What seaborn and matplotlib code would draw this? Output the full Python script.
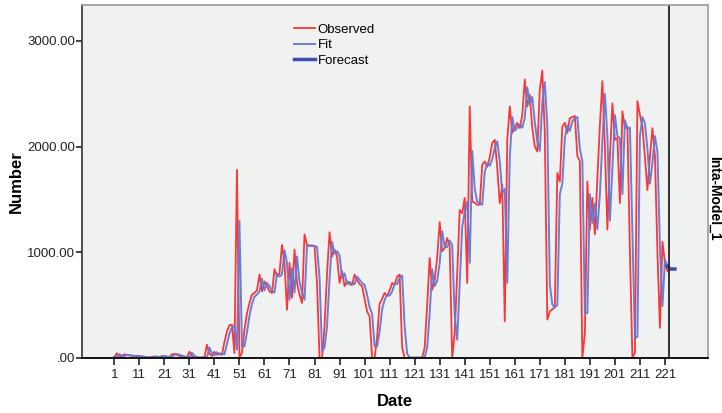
import numpy as np
import pandas as pd
import matplotlib
matplotlib.use("Agg")
import matplotlib.pyplot as plt
import seaborn as sns

observed = [
    10, 45, 20, 15, 35, 30, 25, 20, 20, 15,
    20, 10, 5, 5, 5, 10, 15, 10, 5, 20,
    15, 10, 5, 35, 40, 30, 20, 15, 10, 5,
    60, 20, 5, 5, 5, 5, 5, 125, 40, 20,
    60, 30, 45, 30, 150, 250, 310, 315, 47, 1780,
    0, 50, 270, 420, 520, 600, 615, 640, 790, 630,
    725, 680, 630, 615, 840, 775, 800, 1070, 900, 457,
    900, 570, 1025, 710, 600, 520, 1170, 1070, 1065, 1065,
    1060, 700, 0, 0, 300, 800, 1190, 960, 1025, 960,
    710, 820, 680, 725, 700, 690, 790, 740, 700, 680,
    560, 440, 395, 0, 0, 200, 515, 560, 615, 585,
    640, 710, 695, 770, 790, 100, 0, 0, 0, 0,
    0, 0, 0, 0, 100, 500, 946, 645, 740, 950,
    1285, 1010, 1040, 1135, 1060, 0, 236, 800, 1400, 1370,
    1515, 710, 2380, 1480, 1470, 1450, 1450, 1830, 1860, 1810,
    1900, 2035, 2065, 1800, 1465, 1640, 347, 2065, 2380, 2130,
    2180, 2225, 2175, 2300, 2635, 2380, 2490, 2175, 2000, 1955,
    2540, 2720, 2130, 363, 440, 460, 480, 1750, 1670, 2190,
    2225, 2130, 2270, 2280, 2290, 1910, 1860, 0, 236, 1670,
    1215, 1515, 1170, 1700, 2200, 2620, 2000, 1215, 1900, 2410,
    2065, 2080, 1465, 2335, 2175, 2190, 1000, 0, 50, 2430,
    2300, 2190, 1900, 1590, 1900, 2175, 1910, 1000, 285, 1100,
    900, 820,
]

fit = [
    10, 12, 35, 25, 18, 30, 28, 25, 20, 20,
    15, 18, 12, 8, 6, 6, 10, 14, 10, 8,
    18, 15, 10, 8, 30, 38, 30, 22, 15, 10,
    8, 50, 22, 8, 5, 5, 5, 5, 100, 45,
    25, 55, 32, 42, 35, 130, 230, 290, 300, 80,
    1300, 110, 110, 240, 400, 510, 580, 600, 630, 750,
    640, 710, 680, 630, 620, 800, 770, 790, 1020, 900,
    550, 850, 620, 960, 720, 620, 550, 1060, 1060, 1060,
    1060, 1050, 760, 63, 100, 300, 750, 1100, 990, 1010,
    970, 760, 800, 700, 720, 700, 700, 770, 740, 710,
    690, 600, 480, 420, 110, 110, 250, 460, 550, 600,
    590, 630, 700, 700, 760, 780, 300, 40, 5, 5,
    5, 5, 5, 5, 5, 100, 420, 840, 680, 730,
    900, 1200, 1050, 1050, 1110, 1070, 400, 173, 700, 1240,
    1380, 1480, 900, 1960, 1600, 1480, 1460, 1450, 1760, 1840,
    1820, 1880, 1990, 2050, 1860, 1560, 1600, 710, 1900, 2280,
    2150, 2180, 2210, 2180, 2270, 2560, 2400, 2470, 2230, 2050,
    1960, 2420, 2610, 2200, 700, 505, 480, 500, 1550, 1650,
    2080, 2200, 2150, 2240, 2270, 2280, 1980, 1860, 425, 425,
    1550, 1280, 1460, 1220, 1550, 2050, 2500, 2100, 1300, 1800,
    2300, 2100, 2080, 1550, 2250, 2170, 2180, 1200, 190, 200,
    2100, 2280, 2220, 1980, 1650, 1850, 2100, 1950, 1050, 490,
    930, 870,
]

forecast_dates = [222, 223, 224, 225]
forecast = [870, 842, 842, 842]

x_ticks = list(range(1, 222, 10))
y_ticks = [0, 1000, 2000, 3000]
y_tick_labels = [".00", "1000.00", "2000.00", "3000.00"]
forecast_start = 222.7
model_label = "Inta-Model_1"

dates = list(range(1, len(observed) + 1))
df_obs = pd.DataFrame({"Date": dates, "Number": observed})
df_fit = pd.DataFrame({"Date": dates, "Number": fit})
df_fc = pd.DataFrame({"Date": forecast_dates, "Number": forecast})

plt.rcParams["font.family"] = ["Liberation Sans", "DejaVu Sans"]

fig = plt.figure(figsize=(7.22, 4.13), dpi=100)
ax = fig.add_axes([82 / 722, 1 - 358 / 413, 626 / 722, 353 / 413])
ax.set_facecolor("#f0f1f1")

red = "#ff2b2b"
fit_c = "#6478d4"
fc_c = "#3a4fb3"

sns.lineplot(data=df_obs, x="Date", y="Number", ax=ax, color=red, lw=1.3,
             label="Observed", alpha=0.95)
sns.lineplot(data=df_fit, x="Date", y="Number", ax=ax, color=fit_c, lw=1.4,
             label="Fit", alpha=0.95)
sns.lineplot(data=df_fc, x="Date", y="Number", ax=ax, color=fc_c, lw=2.5,
             label="Forecast")

ax.axvline(forecast_start, color="#222222", lw=1.3)

ax.set_xlim(-11.9, 238.2)
ax.set_ylim(0, 3340)
ax.set_xticks(x_ticks)
ax.set_xticklabels([str(t) for t in x_ticks], fontsize=9.5, color="#222222")
ax.set_yticks(y_ticks)
ax.set_yticklabels(y_tick_labels, fontsize=9.5, color="#222222")
ax.tick_params(axis="x", direction="out", length=5, width=1.2, color="#222222", pad=3)
ax.tick_params(axis="y", direction="out", length=4, width=1.2, color="#222222", pad=1)

ax.set_xlabel("Date", fontsize=12, fontweight="bold", labelpad=9)
ax.set_ylabel("Number", fontsize=12, fontweight="bold")
ax.yaxis.set_label_coords(-0.093, 0.5)

ax.spines["left"].set_color("#333333")
ax.spines["bottom"].set_color("#111111")
ax.spines["left"].set_linewidth(1.2)
ax.spines["bottom"].set_linewidth(1.4)
ax.spines["top"].set_color("#9a9a9a")
ax.spines["right"].set_color("#9a9a9a")
ax.spines["top"].set_linewidth(1.2)
ax.spines["right"].set_linewidth(1.2)
ax.grid(False)

leg = ax.legend(loc="upper left", bbox_to_anchor=(0.33, 0.962), frameon=False,
                fontsize=9.5, handlelength=1.6, handletextpad=0.2,
                labelspacing=0.25, borderaxespad=0)

fig.text(714.5 / 722, 0.52, model_label, rotation=-90, ha="center", va="center",
         fontsize=10, fontweight="bold")

fig.savefig("out.png", dpi=100, facecolor="white")
